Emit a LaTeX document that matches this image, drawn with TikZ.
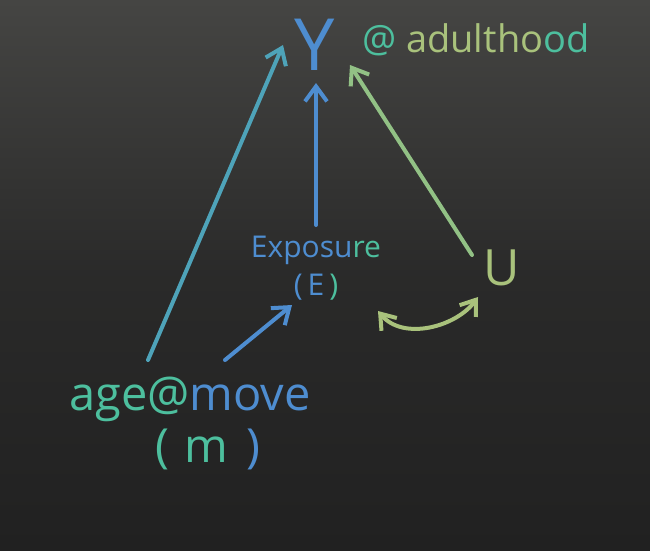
\documentclass[tikz,border=0pt]{standalone}
\usepackage{fontspec}
\setmainfont{Open Sans}
\usetikzlibrary{arrows.meta}
\definecolor{board}{HTML}{212121}
\definecolor{boardlight}{HTML}{454543}
\definecolor{cblue}{HTML}{4E8DD0}
\definecolor{cteal}{HTML}{4DBF9E}
\definecolor{cgreen}{HTML}{A9C27C}
\tikzset{
  chalk/.style={line width=4pt, line cap=round, line join=round},
  chalkarrow/.style={chalk, -{Straight Barb[length=15pt,width=22pt,line width=4pt]}},
  chalkboth/.style={chalk, {Straight Barb[length=14pt,width=20pt,line width=4pt]}-{Straight Barb[length=14pt,width=20pt,line width=4pt]}},
  lbl/.style={inner sep=0pt, anchor=base},
}
\begin{document}
\begin{tikzpicture}[x=1pt,y=-1pt]
\useasboundingbox (0,0) rectangle (650,550);
\shade[top color=boardlight, bottom color=board, middle color=board!75!boardlight] (0,0) rectangle (650,550);
% nodes
\node[lbl, text=cblue, font=\fontsize{72}{72}\selectfont] (Y) at (315,70) {Y};
\node[lbl, anchor=base west, font=\fontsize{38}{38}\selectfont] (adult) at (362,52) {\textcolor{cteal}{@} \textcolor{cgreen}{adultho}\textcolor{cteal}{od}};
\node[lbl, text=cblue, align=center, font=\fontsize{30}{34}\selectfont] (E) at (316,295) {Exposu\textcolor{cteal}{re}\\[4pt](\,E\,\textcolor{cteal}{)}};
\node[lbl, text=cgreen, font=\fontsize{50}{50}\selectfont] (U) at (502,285) {U};
\node[lbl, align=center, font=\fontsize{47}{48}\selectfont] (m) at (190,462) {\textcolor{cteal}{age@}\textcolor{cblue}{move}\\[4pt]\hspace*{36pt}\textcolor{cteal}{(\,\,m}\hspace{18pt}\textcolor{cblue}{)}};
% connectors
\draw[chalkarrow, cteal!45!cblue] ([shift={(-42,-102)}]m.base) -- ([shift={(-32,-25)}]Y.base);
\draw[chalkarrow, cblue] ([shift={(35,-102)}]m.base) -- ([shift={(-24,10)}]E.base);
\draw[chalkarrow, cblue] ([shift={(0,-70)}]E.base) -- ([shift={(1,13)}]Y.base);
\draw[chalkarrow, cgreen!75!cteal] ([shift={(-30,-30)}]U.base) -- ([shift={(35,-5)}]Y.base);
\draw[chalkboth, cgreen] ([shift={(62,16)}]E.base) .. controls +(25,30) and +(-22,30) .. ([shift={(-24,12)}]U.base);
\end{tikzpicture}
\end{document}
